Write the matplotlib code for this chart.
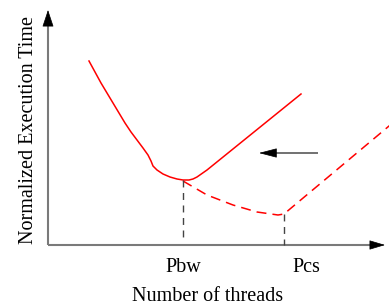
import matplotlib
matplotlib.use("Agg")
import matplotlib.pyplot as plt

plt.rcParams["font.family"] = ["Liberation Serif", "DejaVu Serif"]

# axis units: x = threads, y = normalized time (arbitrary)
solid_x = [41, 47, 53, 59, 65, 71, 77, 83, 89, 95, 100, 103, 105, 109, 115, 122,
           129, 135, 141, 145, 149, 159, 253]
solid_y = [184, 173, 162, 152, 142, 132, 122, 113, 105, 97, 90, 84, 79, 75, 71, 68,
           66, 65, 65, 66, 68, 75, 151]

dashed_x = [135, 159, 185, 209, 230, 236, 347]
dashed_y = [64, 50, 40, 33, 30, 31, 124]

p_bw = (135, 65)
p_cs = (236, 31)
tick_labels = ["Pbw", "Pcs"]
tick_label_x = [135.5, 258.5]

x_end, y_end = 337, 235
shift_arrow = (270, 211, 92)  # start x, tip x, y

RED = "#ff0000"
AXIS_GRAY = "#7a7a7a"

fig = plt.figure(figsize=(3.89, 3.06), dpi=100)
ax = fig.add_axes([0, 0, 1, 1])
ax.set_xlim(-48, 341)
ax.set_ylim(-61, 245)
ax.axis("off")

# axes with arrow heads
ax.plot([0, 0], [0, y_end - 15], color=AXIS_GRAY, lw=1.5, solid_capstyle="butt")
ax.plot([0, x_end - 14], [0, 0], color=AXIS_GRAY, lw=1.5, solid_capstyle="butt")
head = dict(arrowstyle="-|>,head_length=1.08,head_width=0.36", color="black",
            lw=0.5, shrinkA=0, shrinkB=0, mutation_scale=10)
ax.annotate("", xy=(0, y_end), xytext=(0, y_end - 15), arrowprops=head)
ax.annotate("", xy=(x_end, 0), xytext=(x_end - 14, 0),
            arrowprops=dict(head, arrowstyle="-|>,head_length=1.0,head_width=0.3"))

# curves
ax.plot(solid_x, solid_y, color=RED, lw=1.1)
ax.plot(dashed_x, dashed_y, color=RED, lw=1.1, linestyle=(0, (6.5, 4)))

# drop lines to the x axis
for px, py in (p_bw, p_cs):
    ax.plot([px, px], [py, 4 if px == p_bw[0] else 0], color="#444444", lw=1.0,
            linestyle=(0, (5, 4)))

# shift arrow
sx, tx, sy = shift_arrow
ax.plot([sx, tx + 15], [sy, sy], color="#666666", lw=1.3, solid_capstyle="butt")
ax.annotate("", xy=(tx, sy), xytext=(tx + 16, sy),
            arrowprops=dict(head, arrowstyle="-|>,head_length=1.15,head_width=0.3"))

for lab, lx in zip(tick_labels, tick_label_x):
    ax.text(lx, -27, lab, ha="center", va="baseline", fontsize=14.5)

ax.text(160, -56, "Number of threads", ha="center", va="baseline", fontsize=14.5)
ax.text(-15, 115, "Normalized Execution Time", rotation=90, rotation_mode="anchor",
        ha="center", va="baseline", fontsize=14.5)

fig.savefig("out.png", dpi=100)
